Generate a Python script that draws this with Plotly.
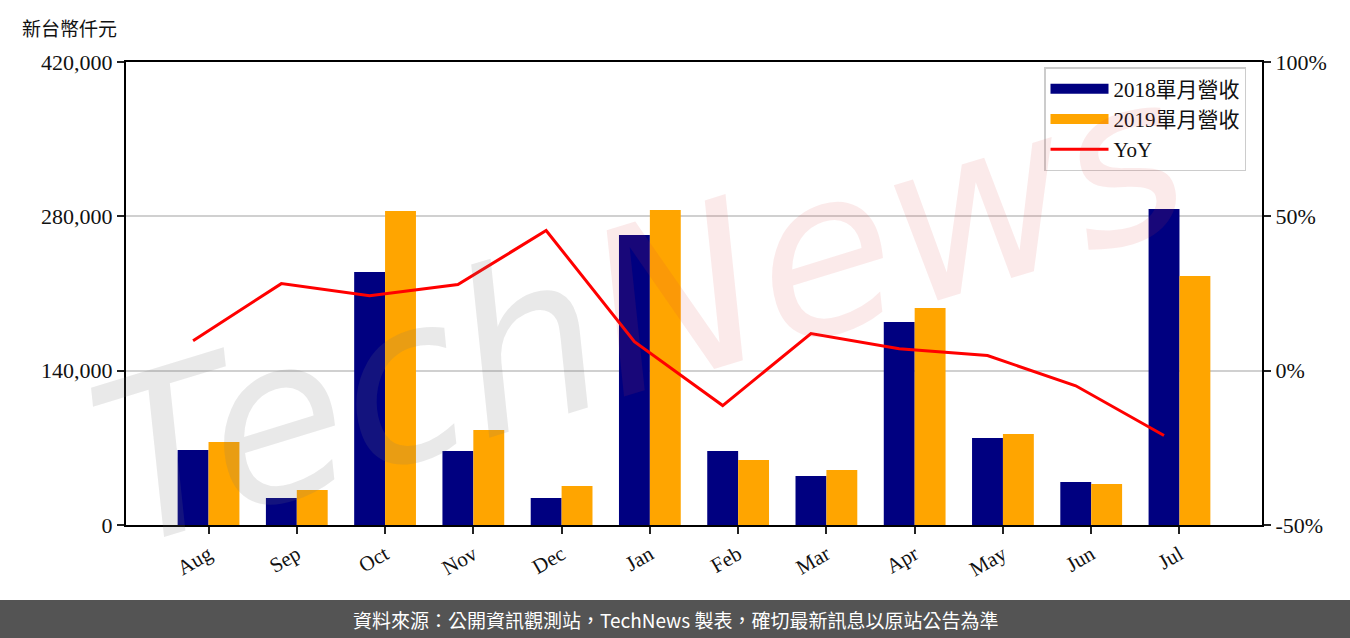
import plotly.graph_objects as go

months = ["Aug", "Sep", "Oct", "Nov", "Dec", "Jan", "Feb", "Mar", "Apr", "May", "Jun", "Jul"]
rev_2018 = [68000, 24500, 229500, 67100, 24500, 263000, 67100, 44400, 184100, 78900, 39000, 286600]
rev_2019 = [75300, 31700, 284800, 86200, 35400, 285700, 59000, 49900, 196800, 82500, 37200, 225800]
yoy = [9.7, 28.2, 24.3, 27.9, 45.4, 9.4, -11.3, 12.0, 7.1, 4.9, -4.9, -21.0]

left_ticks = [0, 140000, 280000, 420000]
right_ticks = [-50, 0, 50, 100]
right_labels = ["-50%", "0%", "50%", "100%"]

serif = "Liberation Serif, Noto Sans CJK TC, serif"
sans = "Noto Sans CJK TC, sans-serif"

c18, c19, cyoy = "#000080", "#FFA500", "#FF0000"

idx = list(range(len(months)))
bar_w = 0.35
line_x = [i - bar_w / 2 for i in idx]

fig = go.Figure()
fig.add_trace(go.Bar(x=idx, y=rev_2018, name="2018單月營收", showlegend=False,
                     marker=dict(color=c18, line=dict(width=0))))
fig.add_trace(go.Bar(x=idx, y=rev_2019, name="2019單月營收", showlegend=False,
                     marker=dict(color=c19, line=dict(width=0))))
fig.add_trace(go.Scatter(x=line_x, y=yoy, name="YoY", mode="lines", showlegend=False,
                         line=dict(color=cyoy, width=3), yaxis="y2"))
# legend entries (wide rectangular swatches like the reference)
fig.add_trace(go.Scatter(x=[None], y=[None], mode="lines", name="2018單月營收", line=dict(color=c18, width=16)))
fig.add_trace(go.Scatter(x=[None], y=[None], mode="lines", name="2019單月營收", line=dict(color=c19, width=16)))
fig.add_trace(go.Scatter(x=[None], y=[None], mode="lines", name="YoY", line=dict(color=cyoy, width=3)))

L, R, T, B = 126, 88, 62, 113
W, H = 1350, 638
pw, ph = W - L - R, H - T - B

def px(x):
    return (x - L) / pw

def py(y):
    return (H - B - y) / ph

fig.update_layout(
    width=W, height=H,
    margin=dict(l=L, r=R, t=T, b=B, pad=0),
    paper_bgcolor="white", plot_bgcolor="white",
    barmode="group", bargap=0.3, bargroupgap=0,
    font=dict(family=serif, size=22, color="#111"),
    xaxis=dict(range=[-0.935, 11.935], tickvals=idx, ticktext=months, tickangle=-30,
               showline=True, linecolor="black", linewidth=2, mirror=True,
               ticks="outside", ticklen=7, tickwidth=2, tickcolor="#222",
               showgrid=False, zeroline=False, tickfont=dict(family=serif, size=21)),
    yaxis=dict(range=[0, 420000], tickvals=left_ticks, tickformat=",",
               showline=True, linecolor="black", linewidth=2,
               ticks="outside", ticklen=7, tickwidth=2, tickcolor="#222",
               showgrid=True, gridcolor="#d0d0d0", gridwidth=2, zeroline=False,
               tickfont=dict(family=serif, size=22)),
    yaxis2=dict(range=[-50, 100], tickmode="array", tickvals=right_ticks, ticktext=right_labels,
                overlaying="y", side="right",
                showline=True, linecolor="black", linewidth=2,
                ticks="outside", ticklen=7, tickwidth=2, tickcolor="#222",
                showgrid=False, zeroline=False, tickfont=dict(family=serif, size=22)),
    legend=dict(x=px(1246), y=py(67), xanchor="right", yanchor="top",
                bgcolor="rgba(255,255,255,0.8)", bordercolor="#cccccc", borderwidth=1.5,
                font=dict(family=serif, size=21), itemwidth=58, tracegroupgap=0),
    showlegend=True,
)

# watermark
fig.add_annotation(
    xref="paper", yref="paper", x=px(640), y=py(310), showarrow=False, textangle=-17,
    text="<span style='color:rgba(120,120,120,0.16)'>Tech</span><span style='color:rgba(220,60,60,0.11)'>News</span>",
    font=dict(family="DejaVu Sans, sans-serif", size=225, style="italic"),
)

# unit label
fig.add_annotation(xref="paper", yref="paper", x=px(20), y=py(27), xanchor="left", yanchor="middle",
                   showarrow=False, text="新台幣仟元", font=dict(family=sans, size=19, color="#111"))

# footer banner
fig.add_shape(type="rect", xref="paper", yref="paper", x0=px(0), x1=px(W), y0=py(H), y1=py(600),
              fillcolor="#545454", line=dict(width=0), layer="above")
fig.add_annotation(xref="paper", yref="paper", x=px(675), y=py(619), xanchor="center", yanchor="middle",
                   showarrow=False, text="資料來源：公開資訊觀測站，TechNews 製表，確切最新訊息以原站公告為準",
                   font=dict(family=sans, size=19, color="white"))

fig.write_html("out.html", config={"displayModeBar": False},
               post_script="document.body.style.margin='0';")
